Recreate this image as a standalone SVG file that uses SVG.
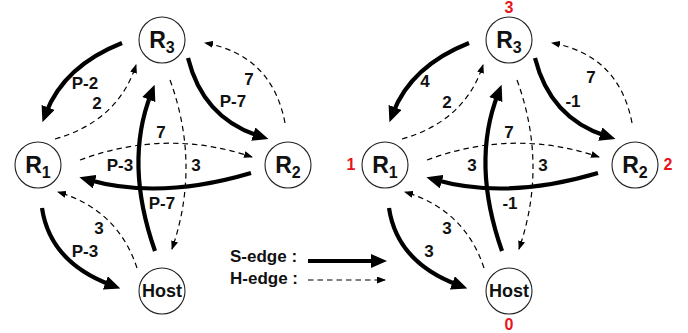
<svg xmlns="http://www.w3.org/2000/svg" width="688" height="333" viewBox="0 0 688 333">
<style>
text{font-family:"Liberation Sans",Arial,sans-serif;font-weight:bold;fill:#111}
.node{fill:#fff;stroke:#222;stroke-width:1.1}
.nl{font-size:23px;text-anchor:middle}
.sub{font-size:16px}
.host{font-size:18px;text-anchor:middle}
.lbl{font-size:17px;text-anchor:middle}
.red{font-size:16px;text-anchor:middle;fill:#e8141c}
.s{fill:none;stroke:#000;stroke-width:4.2;marker-end:url(#sa)}
.h{fill:none;stroke:#000;stroke-width:1.2;stroke-dasharray:5.5,4;marker-end:url(#ha)}
.leg{font-size:17px}
</style>
<defs>
<marker id="sa" markerUnits="userSpaceOnUse" markerWidth="16" markerHeight="14" viewBox="0 0 16 14" refX="6" refY="7" orient="auto"><path d="M0,0 L16,7 L0,14 z" fill="#000"/></marker>
<marker id="ha" markerUnits="userSpaceOnUse" markerWidth="9" markerHeight="7" viewBox="0 0 9 7" refX="8" refY="3.5" orient="auto"><path d="M0,0 L9,3.5 L0,7 z" fill="#000"/></marker>
</defs>
<rect width="688" height="333" fill="#fff"/>

<g id="connectors-left">
<path class="s" d="M122,43 Q64,66 46,113"/>
<path class="h" d="M55,139 Q118,121 136,65"/>
<path class="s" d="M188,58 Q203,118 259,136"/>
<path class="h" d="M285,123 Q272,55 205,43"/>
<path class="h" d="M80,160 Q166,128 252,157"/>
<path class="s" d="M251,173 Q160,200 89,180"/>
<path class="s" d="M155,251 Q124,163 151,94"/>
<path class="h" d="M170,80 Q201,165 172,249"/>
<path class="s" d="M42,208 Q50,262 111,285"/>
<path class="h" d="M137,268 Q118,210 58,192"/>
</g>
<g id="connectors-right" transform="translate(347,0)">
<path class="s" d="M122,43 Q64,66 46,113"/>
<path class="h" d="M55,139 Q118,121 136,65"/>
<path class="s" d="M188,58 Q203,118 259,136"/>
<path class="h" d="M285,123 Q272,55 205,43"/>
<path class="h" d="M80,160 Q166,128 252,157"/>
<path class="s" d="M251,173 Q160,200 89,180"/>
<path class="s" d="M155,251 Q124,163 151,94"/>
<path class="h" d="M170,80 Q201,165 172,249"/>
<path class="s" d="M42,208 Q50,262 111,285"/>
<path class="h" d="M137,268 Q118,210 58,192"/>
</g>

<g id="edge-labels-left">
<text class="lbl" x="85" y="89">P-2</text>
<text class="lbl" x="97" y="109">2</text>
<text class="lbl" x="233" y="107">P-7</text>
<text class="lbl" x="249" y="85">7</text>
<text class="lbl" x="161" y="138">7</text>
<text class="lbl" x="120" y="171">P-3</text>
<text class="lbl" x="196" y="171">3</text>
<text class="lbl" x="162" y="209">P-7</text>
<text class="lbl" x="99" y="234">3</text>
<text class="lbl" x="85" y="257">P-3</text>
</g>
<g id="edge-labels-right">
<text class="lbl" x="425" y="87">4</text>
<text class="lbl" x="447" y="108">2</text>
<text class="lbl" x="573" y="107">-1</text>
<text class="lbl" x="591" y="83">7</text>
<text class="lbl" x="509" y="138">7</text>
<text class="lbl" x="472" y="171">3</text>
<text class="lbl" x="543" y="171">3</text>
<text class="lbl" x="510" y="209">-1</text>
<text class="lbl" x="447" y="234">3</text>
<text class="lbl" x="429" y="257">3</text>
</g>

<g id="L-R3"><circle class="node" cx="162" cy="40" r="23"/><text class="nl" x="162" y="48">R<tspan class="sub" dy="5">3</tspan></text></g>
<g id="L-R1"><circle class="node" cx="38" cy="165" r="23"/><text class="nl" x="38" y="173">R<tspan class="sub" dy="5">1</tspan></text></g>
<g id="L-R2"><circle class="node" cx="288" cy="165" r="23"/><text class="nl" x="288" y="173">R<tspan class="sub" dy="5">2</tspan></text></g>
<g id="L-Host"><circle class="node" cx="162" cy="291" r="23"/><text class="host" x="162" y="297">Host</text></g>

<g id="R-R3"><circle class="node" cx="509" cy="40" r="23"/><text class="nl" x="509" y="48">R<tspan class="sub" dy="5">3</tspan></text><text class="red" x="509" y="13">3</text></g>
<g id="R-R1"><circle class="node" cx="385" cy="165" r="23"/><text class="nl" x="385" y="173">R<tspan class="sub" dy="5">1</tspan></text><text class="red" x="351" y="170">1</text></g>
<g id="R-R2"><circle class="node" cx="635" cy="165" r="23"/><text class="nl" x="635" y="173">R<tspan class="sub" dy="5">2</tspan></text><text class="red" x="668" y="170">2</text></g>
<g id="R-Host"><circle class="node" cx="509" cy="291" r="23"/><text class="host" x="509" y="297">Host</text><text class="red" x="509" y="330">0</text></g>

<g id="legend">
<text class="leg" x="230" y="262">S-edge :</text>
<text class="leg" x="230" y="284">H-edge :</text>
<path d="M308,261 H377" fill="none" stroke="#000" stroke-width="4.2" marker-end="url(#sa)"/>
<path d="M308,280 H385" fill="none" stroke="#000" stroke-width="1.2" stroke-dasharray="5.5,4" marker-end="url(#ha)"/>
</g>
</svg>
